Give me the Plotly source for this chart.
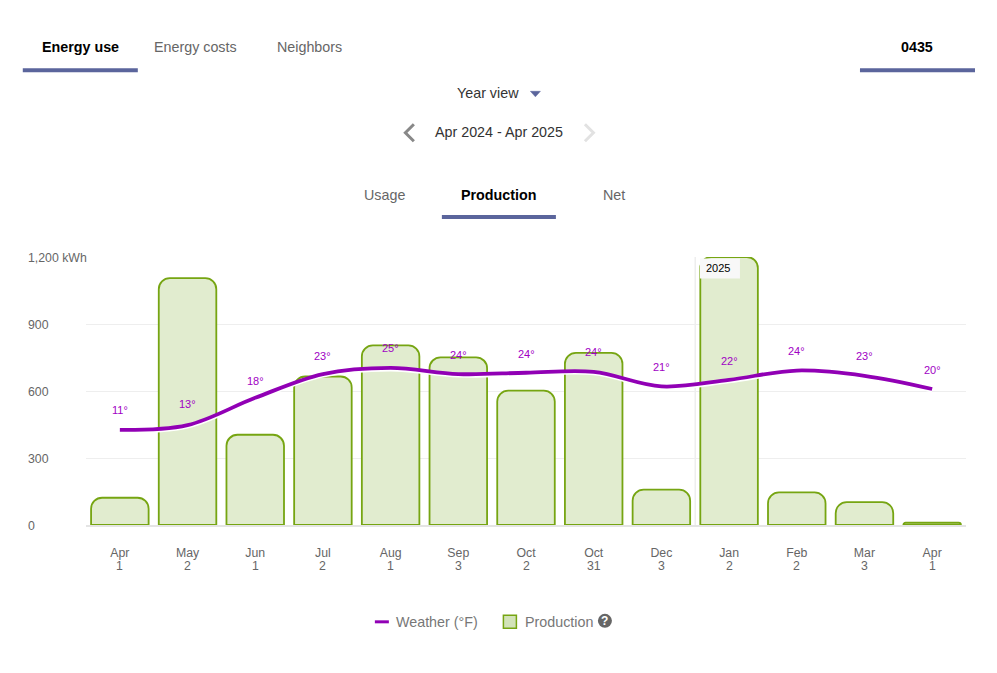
import plotly.graph_objects as go

# ---- data ----
month_labels = ["Apr", "May", "Jun", "Jul", "Aug", "Sep", "Oct", "Oct", "Dec", "Jan", "Feb", "Mar", "Apr"]
day_labels = ["1", "2", "1", "2", "1", "3", "2", "31", "3", "2", "2", "3", "1"]
production_kwh = [122, 1105, 404, 665, 804, 751, 602, 771, 158, 1200, 146, 102, 10]
weather_deg = [10.9, 12.0, 18.2, 23.6, 25.0, 23.6, 23.9, 24.1, 20.8, 22.3, 24.4, 23.2, 20.2]
weather_labels = ["11°", "13°", "18°", "23°", "25°", "24°", "24°", "24°", "21°", "22°", "24°", "23°", "20°"]
y_ticks = [0, 300, 600, 900, 1200]
y_tick_text = ["0", "300", "600", "900", "1,200 kWh"]

# ---- style ----
W, H = 997, 673
L, R, T, B = 86.2, 966.0, 256.5, 525.0
GREEN, FILL = "#76A512", "#E1ECCF"
PURPLE, LABEL_PURPLE = "#9100B5", "#A000C4"
INDIGO = "#5B659C"
GREY = "#666666"
SANS = "Liberation Sans, Arial, sans-serif"
TEXT = 14.3
label_lift = [20, 21, 17, 18, 20, 19, 19, 20, 19, 19, 20, 20, 19]


def px(x):
    return (x - L) / (R - L)


def py(y):
    return (B - y) / (B - T)


positions = list(range(len(month_labels)))

fig = go.Figure()
fig.add_trace(go.Bar(
    x=positions, y=production_kwh, name="Production",
    marker=dict(color=FILL, line=dict(color=GREEN, width=1.8), cornerradius=11),
    showlegend=False, hoverinfo="skip",
))
fig.add_trace(go.Scatter(
    x=positions, y=weather_deg, yaxis="y2", mode="lines", showlegend=False, hoverinfo="skip",
    line=dict(color="white", width=3, shape="spline", smoothing=1),
))
fig.add_trace(go.Scatter(
    x=positions, y=weather_deg, yaxis="y3", mode="lines", name="Weather (°F)", showlegend=False,
    line=dict(color=PURPLE, width=3.8, shape="spline", smoothing=1),
))

annotations = []


def label(x, y, text, size=TEXT, color=GREY, bold=False, anchor="center", **extra):
    annotations.append(dict(
        xref="paper", yref="paper", x=px(x), y=py(y), text=f"<b>{text}</b>" if bold else text,
        showarrow=False, xanchor=anchor, yanchor="middle",
        font=dict(family=SANS, size=size, color=color), **extra))


for i, t in enumerate(weather_labels):
    annotations.append(dict(
        xref="x", yref="y3", x=positions[i], y=weather_deg[i], text=t, showarrow=False,
        yshift=label_lift[i], font=dict(family=SANS, size=11, color=LABEL_PURPLE)))
for i, d in enumerate(day_labels):
    annotations.append(dict(
        xref="x", yref="paper", x=positions[i], y=py(566.5), text=d, showarrow=False, yanchor="middle",
        font=dict(family=SANS, size=12.3, color=GREY)))

label(80.5, 46.5, "Energy use", bold=True, color="#000000")
label(195.5, 46.5, "Energy costs")
label(309.8, 46.5, "Neighbors")
label(917.5, 46.5, "0435", bold=True, color="#000000")
label(488.5, 92.5, "Year view", color="#333333")
label(499, 131.5, "Apr 2024 - Apr 2025", color="#333333")
label(384.5, 194.5, "Usage")
label(499, 194.5, "Production", bold=True, color="#000000")
label(614, 194.5, "Net")
label(437, 622, "Weather (°F)", color="#777777")
label(559, 622, "Production", color="#777777")
label(605, 621, "?", size=12, color="white", bold=True)
label(718, 268, "2025", size=11, color="#000000")


def rect(x0, y0, x1, y1, fill, line=None, layer="above"):
    return dict(type="rect", xref="paper", yref="paper", x0=px(x0), x1=px(x1), y0=py(y0), y1=py(y1),
                fillcolor=fill, line=dict(color=line or fill, width=1.5 if line else 0), layer=layer)


def path(points, color, width=2.5, fill="rgba(0,0,0,0)"):
    d = "M " + " L ".join(f"{px(a):.5f},{py(b):.5f}" for a, b in points)
    return dict(type="path", xref="paper", yref="paper", path=d, line=dict(color=color, width=width), fillcolor=fill)


shapes = [
    rect(23, 67.5, 138, 71.5, INDIGO),
    rect(860, 67.5, 975, 71.5, INDIGO),
    rect(442, 214.5, 556, 218.5, INDIGO),
    path([(530.5, 90.5), (540.5, 90.5), (535.5, 96), (530.5, 90.5)], INDIGO, 0.5, INDIGO),
    path([(414, 123.5), (405.5, 132), (414, 140.5)], "#888888", 3),
    path([(585, 123.5), (593.5, 132), (585, 140.5)], "#E2E2E2", 3),
    rect(375, 620.5, 389, 623.5, PURPLE),
    rect(503.5, 615.5, 516.5, 628.5, "#D2E3B8", GREEN),
    dict(type="circle", xref="paper", yref="paper", x0=px(598), x1=px(612), y0=py(614), y1=py(628),
         fillcolor="#666666", line=dict(width=0)),
    dict(type="line", xref="x", yref="paper", x0=8.5, x1=8.5, y0=0, y1=1,
         line=dict(color="#EEEEEE", width=1.5), layer="below"),
    rect(700, 258, 740, 278, "#F8F8F8"),
]

deg_range = [-10.7, 50.2]
shadow_drop = 2 / 4.4

fig.update_layout(
    width=W, height=H, autosize=False,
    margin=dict(l=L, r=W - R, t=T, b=H - B, pad=0),
    paper_bgcolor="white", plot_bgcolor="white",
    bargap=0.15, showlegend=False,
    font=dict(family=SANS, size=12, color=GREY),
    annotations=annotations, shapes=shapes,
    xaxis=dict(
        range=[-0.5, 12.5], tickvals=positions, ticktext=month_labels, tickmode="array",
        showgrid=False, zeroline=False, showline=True, linecolor="#E4E4E4", linewidth=2,
        ticks="", ticklabelstandoff=15, tickfont=dict(family=SANS, size=12.3, color=GREY),
    ),
    yaxis=dict(
        range=[0, 1200], tickvals=y_ticks, ticktext=y_tick_text, tickmode="array",
        showgrid=True, gridcolor="#EEEEEE", gridwidth=1, zeroline=False, showline=False, ticks="",
        ticklabelposition="inside", ticklabelstandoff=-61, ticklabeloverflow="allow",
        ticklabelshift=1, tickfont=dict(family=SANS, size=12.3, color=GREY),
    ),
    yaxis2=dict(range=[deg_range[0] + shadow_drop, deg_range[1] + shadow_drop], overlaying="y",
                visible=False, side="right"),
    yaxis3=dict(range=deg_range, overlaying="y", visible=False, side="right"),
)

fig.write_html("out.html", config=dict(displayModeBar=False),
               post_script="document.body.style.margin='0';document.body.style.overflow='hidden';")
